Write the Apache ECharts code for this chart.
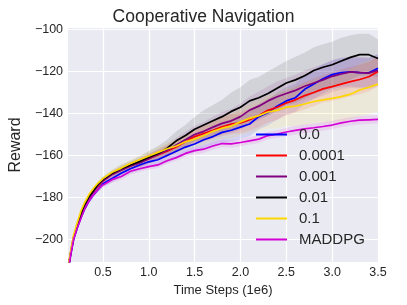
<!DOCTYPE html>
<html><head><meta charset="utf-8">
<script src="https://cdn.jsdelivr.net/npm/echarts@6/dist/echarts.min.js"></script>
<style>html,body{margin:0;padding:0;background:#fff}#c{width:407px;height:305px}</style>
</head><body><div id="c"></div>
<script>
// Time steps (1e6)
const xs = [0.12,0.15,0.18,0.22,0.26,0.30,0.35,0.40,0.45,
  0.5,0.6,0.7,0.8,0.9,1.0,1.1,1.2,1.3,1.4,1.5,1.6,1.7,1.8,1.9,2.0,
  2.1,2.2,2.3,2.4,2.5,2.6,2.7,2.8,2.9,3.0,3.1,3.2,3.3,3.4,3.5];
const xTicks = [0.5,1.0,1.5,2.0,2.5,3.0,3.5];
const yTicks = [-200,-180,-160,-140,-120,-100];
const names = ['0.0','0.0001','0.001','0.01','0.1','MADDPG'];

const s00 = [-215,-207,-200,-194.5,-189.5,-185.5,-181.5,-178.5,-176,
  -173.5,-171,-168.5,-166.3,-164.5,-163,-162,-160,-158,-156,-154.5,-152.5,-151,-149,-148,-146.5,
  -145,-141.5,-139.5,-136.5,-134,-132.5,-128.5,-126,-123.5,-121.5,-120.5,-120.2,-120.5,-120.6,-118.5];
const s0001 = [-214,-206,-199,-193,-188,-184,-180,-177,-174.5,
  -172,-169,-166.8,-165,-163.3,-161.5,-159.8,-158,-156,-153.5,-151,-149.5,-148,-146.3,-145,-144.5,
  -143,-141,-138.5,-137,-135,-133.5,-131.5,-130,-128.3,-127.2,-126,-124.8,-123.8,-122.5,-120];
const s001 = [-214,-206,-199.5,-193,-188.5,-184,-180,-177,-174,
  -172,-169,-167,-165,-163.5,-161.5,-159.5,-157.5,-155,-152.5,-150,-148.5,-146.5,-144.7,-143.5,-141.5,
  -138.4,-136.5,-134,-132,-130.5,-129,-127,-125.5,-124,-122.3,-121.2,-120.2,-120.5,-120.8,-119.5];
const s01 = [-214,-206,-199,-193.5,-188,-183.5,-179.5,-176.5,-173.5,
  -171.5,-168.5,-166.3,-164.5,-162.8,-160.8,-159,-156.5,-153,-150.5,-147.5,-145.5,-143.5,-141.5,-139,-137,
  -134,-132.5,-130.5,-128,-125.5,-124,-122,-119.5,-118,-116.8,-115,-113.3,-112,-112,-113.8];
const s1 = [-213,-205,-198,-192,-186.5,-182.5,-178.5,-175.5,-173,
  -171,-168,-166,-163.8,-162,-160.2,-158.5,-156.8,-155.5,-153.5,-152.2,-150.5,-148.5,-147,-146,-144,
  -142.3,-141,-139.3,-138.5,-137,-136.5,-135.5,-134.3,-133.5,-132.8,-132,-130.8,-128.8,-127.5,-126];
const sMaddpg = [-215,-207,-200,-194.5,-190,-185.5,-181.5,-178.5,-176,
  -174,-171.5,-170,-167.5,-166.3,-165.3,-164.5,-162.5,-161,-159,-157.7,-157,-155.5,-154.3,-154.5,-153.8,
  -153,-152.2,-150.5,-149.8,-148.8,-148,-147.3,-146.8,-146.2,-145.5,-144.5,-143.7,-143.2,-143,-142.8];

// shaded spread (half width) for each run
const d00 = [1.2,1.2,1.2,1.2,1.2,1.2,1.2,1.2,1.2,
  1.5,1.7,2,2.2,2.5,2.7,3,3.2,3.5,3.8,4,4.3,4.6,5,5.3,5.5,5.8,6,6.2,6.5,6.5,6.7,7,7,7,7,7,7,7,7,7];
const d0001 = [1,1,1,1,1,1,1,1,1,
  1.2,1.3,1.5,1.7,2,2.2,2.5,2.8,3,3.3,3.6,4,4.2,4.5,4.8,5,5.2,5.5,5.8,6,6,6.2,6.5,6.5,6.5,6.8,7,7,7,7,7];
const d001 = [1,1,1,1,1,1,1,1,1,
  1.2,1.4,1.6,1.8,2,2.3,2.6,3,3.4,3.8,4.2,4.6,5,5.4,5.8,6.2,6.5,6.8,7,7.2,7.4,7.5,7.5,7.5,7.5,7.5,7.5,7.5,7.5,7.5,7.5];
const d01 = [1,1,1,1,1,1,1,1,1.2,
  1.5,1.5,2,2,2.5,3,3.5,4,4.5,5,6,7,7.5,8,9,9.5,10,10,10.5,10.5,10.5,11,11,11,11,11,11,10.5,10,10,9];
const d1 = [1,1,1,1,1,1,1,1,1,
  1.2,1.4,1.6,1.8,2,2.2,2.5,2.8,3.2,3.6,4,4.5,5,5.5,6,6.5,7,7.5,8,8.5,9,9.5,10,10.5,11,11.5,12,12,12.5,13,13];
const dMaddpg = [1.2,1.2,1.2,1.2,1.2,1.2,1.2,1.2,1.2,
  1.5,1.5,1.5,1.5,1.5,1.5,1.5,1.5,1.5,1.5,1.8,1.8,1.8,1.8,1.8,1.8,1.8,1.8,1.8,1.8,2,2,2,2,2,2,2,2,2,2,2];

const vals = [s00,s0001,s001,s01,s1,sMaddpg];
const spreads = [d00,d0001,d001,d01,d1,dMaddpg];
const colors = ['#0000FF','#FF0000','#800080','#000000','#FFD700','#D400D4'];

const series = [];
// shaded bands drawn as polygons through the axes' scales
series.push({
  type:'custom', silent:true, z:1,
  data: names.map((n,i)=>[1,-150,i]),
  renderItem:(params, api)=>{
    const i = params.dataIndex;
    const up = [], lo = [];
    xs.forEach((x,j)=>{
      up.push(api.coord([x, vals[i][j]+spreads[i][j]]));
      lo.push(api.coord([x, vals[i][j]-spreads[i][j]]));
    });
    const pts = up.concat(lo.reverse());
    const cs = params.coordSys;
    const clipped = echarts.graphic.clipPointsByRect(pts, {x:cs.x, y:cs.y, width:cs.width, height:cs.height});
    return {type:'polygon', shape:{points:clipped}, style:{fill:colors[i], opacity:0.1}};
  }
});
names.forEach((n,i)=>{
  series.push({type:'line', name:n, z:3, symbol:'none', color:colors[i],
    lineStyle:{color:colors[i], width:1.7},
    data: xs.map((x,j)=>[x, vals[i][j]])});
});

const txt = '#262626';
const chart = echarts.init(document.getElementById('c'));
chart.setOption({
  animation:false,
  backgroundColor:'#ffffff',
  title:{text:'Cooperative Navigation', left:'center', top:3,
    textStyle:{fontFamily:'Liberation Sans', fontSize:17.5, fontWeight:'normal', color:txt}},
  grid:{left:57, right:29, top:28, bottom:43, show:true, backgroundColor:'#EAEAF2', borderWidth:0},
  legend:{orient:'vertical', left:256, top:127, padding:0, icon:'rect', itemWidth:31, itemHeight:2, itemGap:6,
    data:names, itemStyle:{borderWidth:0},
    textStyle:{fontFamily:'Liberation Sans', fontSize:15, lineHeight:15, color:txt, padding:[0,0,0,7]}},
  xAxis:{type:'value', min:0.12, max:3.5,
    name:'Time Steps (1e6)', nameLocation:'middle', nameGap:15,
    nameTextStyle:{fontFamily:'Liberation Sans', fontSize:13, color:txt},
    axisLine:{show:false}, axisTick:{show:false, customValues:xTicks},
    axisLabel:{customValues:xTicks, fontFamily:'Liberation Sans', fontSize:12.5, color:txt, margin:4,
      formatter:v=>v.toFixed(1)},
    splitLine:{show:true, lineStyle:{color:'#ffffff', width:1.2}}},
  yAxis:{type:'value', min:-210.7, max:-99.3,
    name:'Reward', nameLocation:'middle', nameGap:42, nameRotate:90,
    nameTextStyle:{fontFamily:'Liberation Sans', fontSize:16, color:txt},
    axisLine:{show:false}, axisTick:{show:false, customValues:yTicks},
    axisLabel:{customValues:yTicks, fontFamily:'Liberation Sans', fontSize:12.5, color:txt, margin:5,
      formatter:v=>String(v).replace('-','\u2212')},
    splitLine:{show:true, lineStyle:{color:'#ffffff', width:1.2}}},
  series:series
});
</script></body></html>
